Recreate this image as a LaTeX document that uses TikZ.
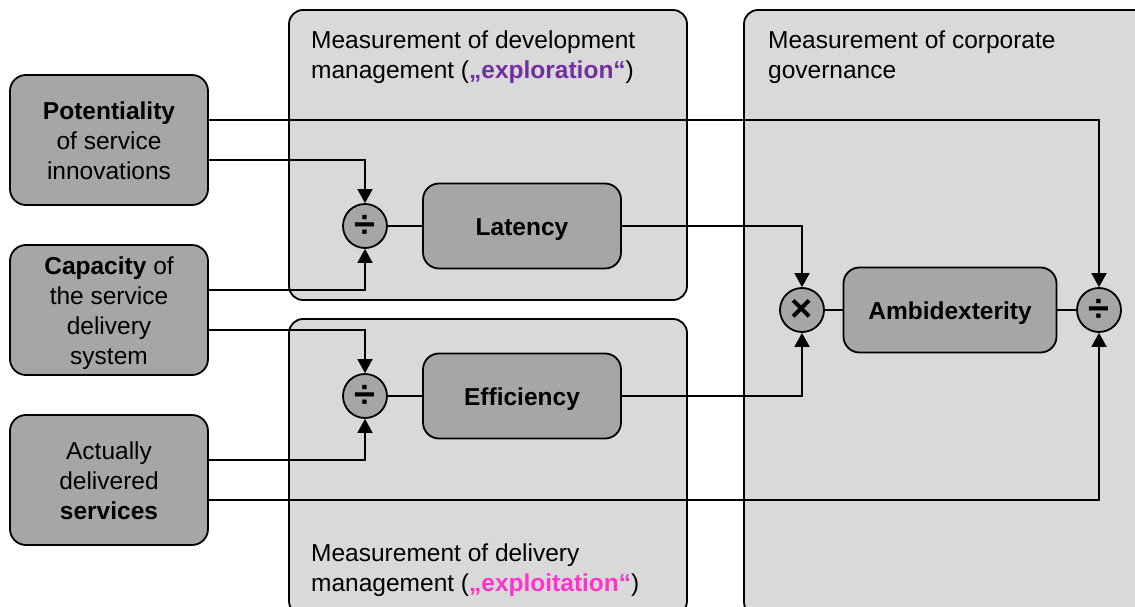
\documentclass[tikz,border=0pt]{standalone}
\usepackage{fontspec}
\setmainfont{Liberation Sans}
\usetikzlibrary{arrows.meta}
\definecolor{panelgray}{HTML}{D9D9D9}
\definecolor{boxgray}{HTML}{A6A6A6}
\definecolor{explor}{HTML}{7030A0}
\definecolor{exploit}{HTML}{FF33CC}
\newcommand{\lowertext}[1]{\raisebox{-3.5pt}[\height][\depth]{#1}}
\newcommand{\stacklines}[1]{\lowertext{\begin{tabular}{@{}c@{}}#1\end{tabular}}}
\begin{document}
\begin{tikzpicture}[x=1pt,y=-1pt,
  panel/.style={draw=black, line width=1.8pt, fill=panelgray, rounded corners=14pt, rectangle, inner sep=0},
  gbox/.style={draw=black, line width=1.8pt, fill=boxgray, rounded corners=16pt, rectangle, inner sep=0, align=center, font=\fontsize{24.5}{30}\selectfont},
  mbox/.style={gbox, font=\fontsize{24.5}{30}\selectfont\bfseries, minimum height=85pt},
  op/.style={circle, draw=black, line width=1.8pt, fill=boxgray, minimum size=44pt, inner sep=0, font=\fontsize{38}{38}\selectfont\bfseries},
  conn/.style={line width=1.8pt},
  arr/.style={conn, -{Triangle[width=15pt,length=14pt]}},
  ptext/.style={anchor=north west, inner sep=0, align=left, font=\fontsize{24.5}{30}\selectfont}
]
\path[use as bounding box] (0,0) rectangle (1135,607);
\clip (0,0) rectangle (1135,607);

% panels
\node[panel, minimum width=398pt, minimum height=290pt] (devp) at (488,155) {};
\node[panel, minimum width=398pt, minimum height=296pt] (delp) at (488,467) {};
\node[panel, minimum width=410pt, minimum height=606pt] (corp) at (949,313) {};

\node[ptext] (devt) at (311,31) {Measurement of development\\management ({\color{explor}\textbf{„exploration“}})};
\node[ptext] (delt) at (311,544) {Measurement of delivery\\management ({\color{exploit}\textbf{„exploitation“}})};
\node[ptext] (cort) at (768,31) {Measurement of corporate\\governance};

% input boxes
\node[gbox, minimum width=198pt, minimum height=130pt] (pot) at (109,140) {\stacklines{\textbf{Potentiality}\\of service\\innovations}};
\node[gbox, minimum width=198pt, minimum height=130pt] (cap) at (109,310) {\stacklines{\textbf{Capacity} of\\the service\\delivery\\system}};
\node[gbox, minimum width=198pt, minimum height=130pt] (act) at (109,480) {\stacklines{Actually\\delivered\\\textbf{services}}};

% operators
\node[op] (d1) at (365,226) {÷};
\node[op] (d2) at (365,396) {÷};
\node[op] (mul) at (802,310) {×};
\node[op] (d3) at (1099,310) {÷};

% metric boxes
\node[mbox, minimum width=198pt] (lat) at (522,226) {\lowertext{Latency}};
\node[mbox, minimum width=198pt] (eff) at (522,396) {\lowertext{Efficiency}};
\node[mbox, minimum width=213pt] (amb) at (950,310) {\lowertext{Ambidexterity}};

% connectors
\draw[arr] ([yshift=20pt]pot.east) -| (d3.north);
\draw[arr] ([yshift=-20pt]pot.east) -| (d1.north);
\draw[arr] ([yshift=20pt]cap.east) -| (d1.south);
\draw[arr] ([yshift=-20pt]cap.east) -| (d2.north);
\draw[arr] ([yshift=20pt]act.east) -| (d2.south);
\draw[arr] ([yshift=-20pt]act.east) -| (d3.south);
\draw[arr] (lat.east) -| (mul.north);
\draw[arr] (eff.east) -| (mul.south);
\draw[conn] (d1) -- (lat);
\draw[conn] (d2) -- (eff);
\draw[conn] (mul) -- (amb);
\draw[conn] (amb) -- (d3);
\end{tikzpicture}
\end{document}
